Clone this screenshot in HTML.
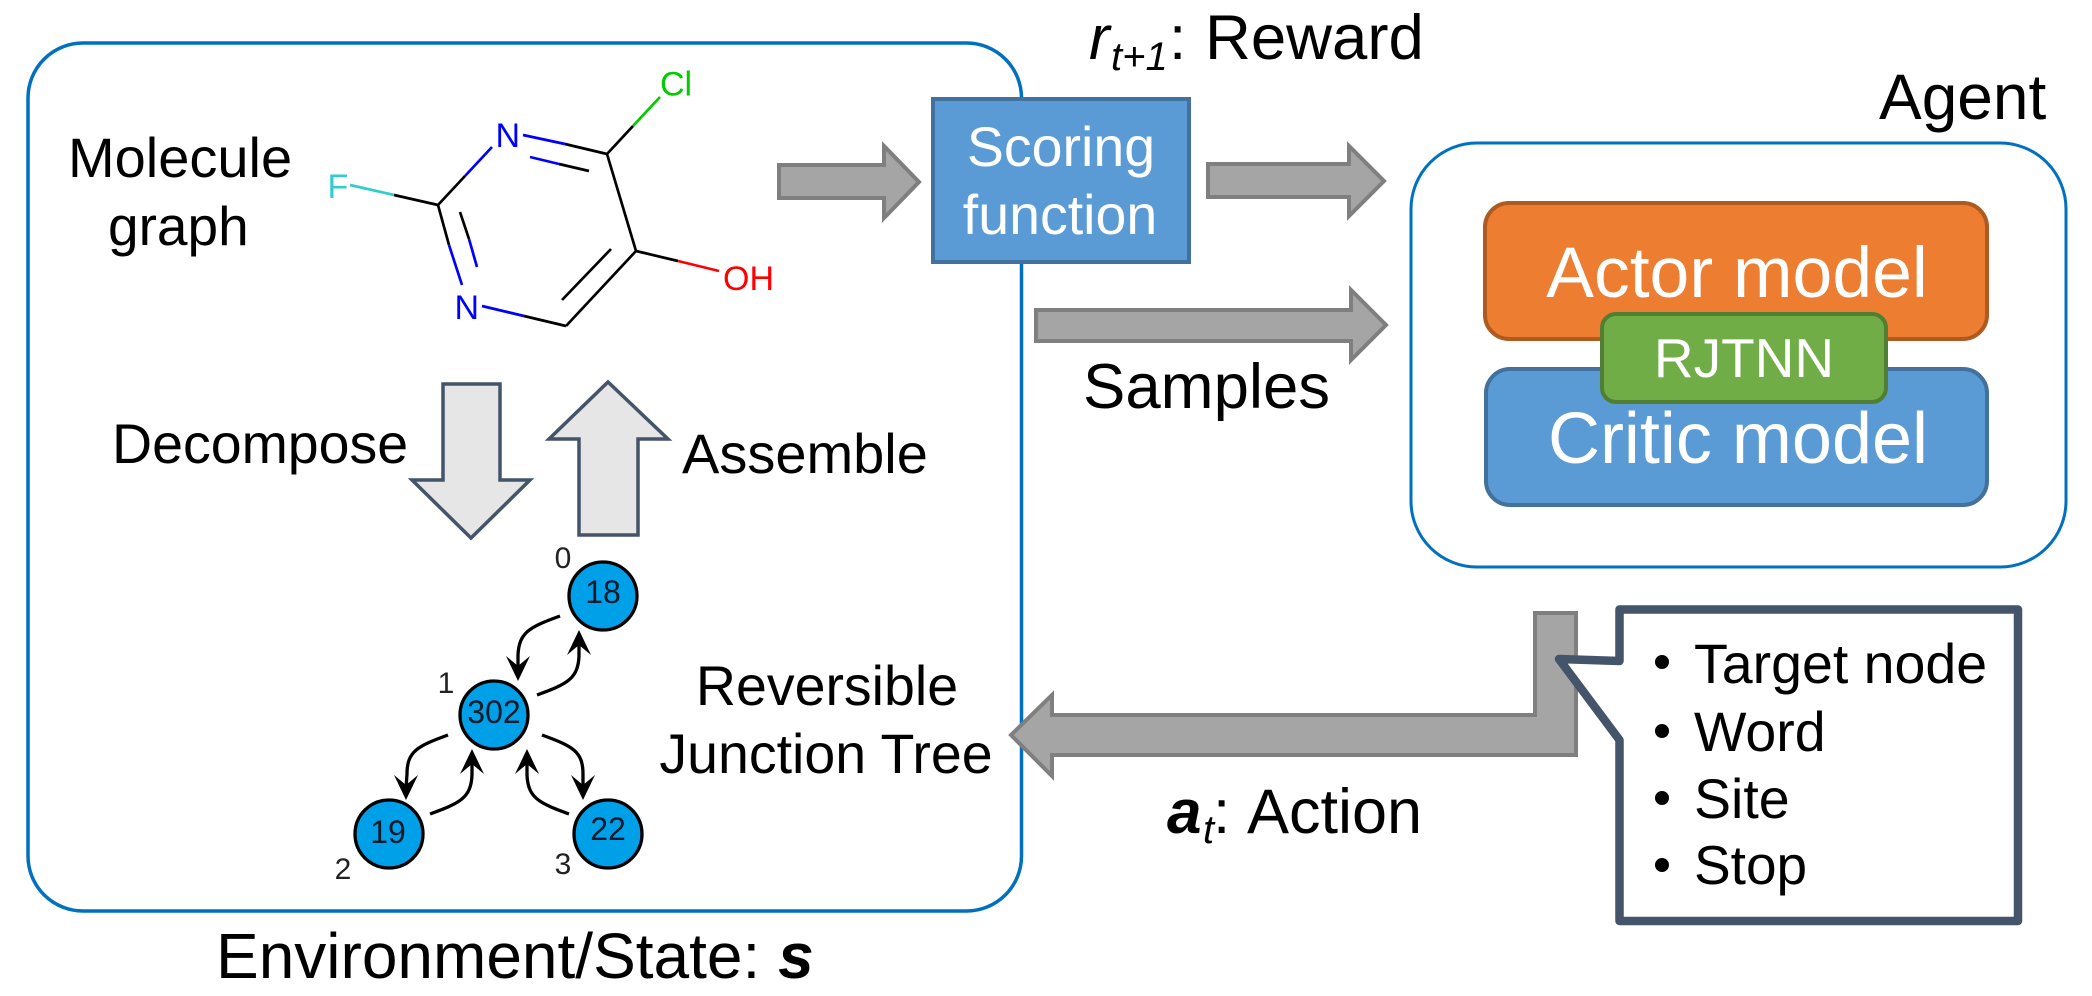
<!DOCTYPE html>
<html>
<head>
<meta charset="utf-8">
<style>
html,body{margin:0;padding:0;background:#fff;}
svg{display:block;}
text{font-family:"Liberation Sans",Arial,sans-serif;}
</style>
</head>
<body>
<svg width="2092" height="996" viewBox="0 0 2092 996" xmlns="http://www.w3.org/2000/svg">
<rect x="0" y="0" width="2092" height="996" fill="#fff"/>
<!-- Environment box -->
<rect x="28" y="43" width="993.5" height="868" rx="55" ry="55" fill="#fff" stroke="#0070C0" stroke-width="3.5"/>
<!-- Agent box -->
<rect x="1411" y="143" width="655" height="424" rx="66" ry="66" fill="#fff" stroke="#0070C0" stroke-width="3"/>

<!-- Grey arrows -->
<g fill="#A5A5A5" stroke="#7F7F7F" stroke-width="4">
<polygon points="779,165 884,165 884,146 919,182 884,218 884,198 779,198"/>
<polygon points="1208,164 1349,164 1349,146 1384,181 1349,216 1349,197 1208,197"/>
<polygon points="1036,310 1351,310 1351,290 1386,325 1351,360 1351,341 1036,341"/>
<polygon points="1535,613 1576,613 1576,755 1052,755 1052,776 1011,735 1052,695 1052,715 1535,715"/>
</g>

<!-- Scoring function -->
<rect x="933" y="99" width="256" height="163" fill="#5B9BD5" stroke="#41719C" stroke-width="4"/>
<text x="1061" y="166" font-size="55.5" fill="#fff" text-anchor="middle">Scoring</text>
<text x="1060" y="234" font-size="55.5" fill="#fff" text-anchor="middle">function</text>

<!-- Models -->
<rect x="1485" y="203" width="502" height="136" rx="24" ry="24" fill="#ED7D31" stroke="#AE5A21" stroke-width="4"/>
<rect x="1486" y="369" width="501" height="136" rx="24" ry="24" fill="#5B9BD5" stroke="#41719C" stroke-width="4"/>
<text x="1737" y="297" font-size="71.5" fill="#fff" text-anchor="middle">Actor model</text>
<text x="1738" y="463" font-size="72" fill="#fff" text-anchor="middle">Critic model</text>
<rect x="1602" y="314" width="284" height="88" rx="14" ry="14" fill="#70AD47" stroke="#507E32" stroke-width="4"/>
<text x="1744" y="377" font-size="55" fill="#fff" text-anchor="middle">RJTNN</text>

<!-- Callout -->
<path d="M1619.5,609.5 L2018,609.5 L2018,921 L1619.5,921 L1619.5,740 L1559,659 L1619.5,661 Z" fill="#fff" stroke="#44546A" stroke-width="8.5" stroke-linejoin="round"/>
<circle cx="1662" cy="662" r="7" fill="#000"/>
<circle cx="1662" cy="731" r="7" fill="#000"/>
<circle cx="1662" cy="798" r="7" fill="#000"/>
<circle cx="1662" cy="865" r="7" fill="#000"/>
<text x="1694" y="683" font-size="55.5">Target node</text>
<text x="1694" y="751" font-size="55.5">Word</text>
<text x="1694" y="818" font-size="55.5">Site</text>
<text x="1694" y="884" font-size="55">Stop</text>

<!-- Black labels -->
<text x="1089" y="59" font-size="62" font-style="italic">r</text>
<text x="1111" y="70" font-size="40" font-style="italic">t+1</text>
<text x="1169" y="59" font-size="62">:</text>
<text x="1205" y="59" font-size="63.5">Reward</text>
<text x="1879" y="119" font-size="64">Agent</text>
<text x="1083" y="408" font-size="63.5">Samples</text>
<text x="68" y="177" font-size="56">Molecule</text>
<text x="108" y="245" font-size="55">graph</text>
<text x="112" y="463" font-size="55.5">Decompose</text>
<text x="682" y="473" font-size="56">Assemble</text>
<text x="827" y="705" font-size="55.5" text-anchor="middle">Reversible</text>
<text x="826" y="773" font-size="55.5" text-anchor="middle">Junction Tree</text>
<text x="216" y="978" font-size="64">Environment/State: <tspan font-weight="bold" font-style="italic">s</tspan></text>
<text x="1167" y="833" font-size="62" font-weight="bold" font-style="italic">a</text>
<text x="1203" y="843" font-size="40" font-style="italic">t</text>
<text x="1213" y="833" font-size="62">:</text>
<text x="1247" y="833" font-size="63">Action</text>

<!-- Hollow arrows -->
<g fill="#E7E6E6" stroke="#44546A" stroke-width="3.5">
<polygon points="443,384 500,384 500,480 530,480 471,538 412,480 443,480"/>
<polygon points="608,382 668,439 638,439 638,535 579,535 579,439 549,439"/>
</g>

<!-- Molecule -->
<g fill="none" stroke-width="2.7" stroke-linecap="butt">
<path d="M607,154 L636,251 M636,251 L566,326 M611,249 L562,300 M566,326 L524,316" stroke="#000"/>
<path d="M524,316 L482,306" stroke="#0000FF"/>
<path d="M607,154 L565,144 M589,171 L559,164 M438,205 L465,176" stroke="#000"/>
<path d="M565,144 L523,135 M559,164 L530,157 M465,176 L492,147" stroke="#0000FF"/>
<path d="M438,205 L449,245 M460,212 L469,239" stroke="#000"/>
<path d="M449,245 L462,285 M469,239 L477,267" stroke="#0000FF"/>
<path d="M438,205 L394,195" stroke="#000"/>
<path d="M394,195 L350,185" stroke="#33CCCC"/>
<path d="M607,154 L633,126" stroke="#000"/>
<path d="M633,126 L660,97" stroke="#00CC00"/>
<path d="M636,251 L678,261" stroke="#000"/>
<path d="M678,261 L719,271" stroke="#FF0000"/>
</g>
<text x="495.5" y="147" font-size="34" fill="#0000FF">N</text>
<text x="454.5" y="319" font-size="34" fill="#0000FF">N</text>
<text x="327.5" y="198" font-size="34" fill="#33CCCC">F</text>
<text x="660" y="95.5" font-size="34" fill="#00CC00">Cl</text>
<text x="723" y="290" font-size="34" fill="#FF0000">OH</text>

<!-- Tree edges -->
<g fill="none" stroke="#000" stroke-width="3.3">
<path d="M560,616 C530,627 519,632 518,655 L518,670"/>
<path d="M537,695 C567,684 578,679 579,656 L579,642"/>
<path d="M448,735 C418,746 407,751 407,774 L406,789"/>
<path d="M430,814 C460,803 471,798 472,775 L472,760"/>
<path d="M569,814 C539,803 528,798 527,775 L527,760"/>
<path d="M542,735 C572,746 583,751 583,774 L583,789"/>
</g>
<g fill="#000">
<polygon points="518,681 506,656 518,666 530,656"/>
<polygon points="579,630 567,655 579,645 591,655"/>
<polygon points="406,800 394,775 406,785 418,775"/>
<polygon points="472,749 460,774 472,764 484,774"/>
<polygon points="527,749 515,774 527,764 539,774"/>
<polygon points="583,800 571,775 583,785 595,775"/>
</g>
<!-- Tree nodes -->
<g fill="#00A0E9" stroke="#000" stroke-width="3.3">
<circle cx="603" cy="596" r="34"/>
<circle cx="494" cy="715" r="34"/>
<circle cx="389" cy="834" r="34"/>
<circle cx="608" cy="834" r="34"/>
</g>
<g font-size="32" text-anchor="middle" fill="#0a1a2a">
<text x="603" y="603">18</text>
<text x="494" y="723">302</text>
<text x="388" y="843">19</text>
<text x="608" y="840">22</text>
</g>
<g font-size="30" text-anchor="middle" fill="#222">
<text x="563" y="568">0</text>
<text x="446" y="693">1</text>
<text x="343" y="879">2</text>
<text x="563" y="874">3</text>
</g>
</svg>
</body>
</html>
